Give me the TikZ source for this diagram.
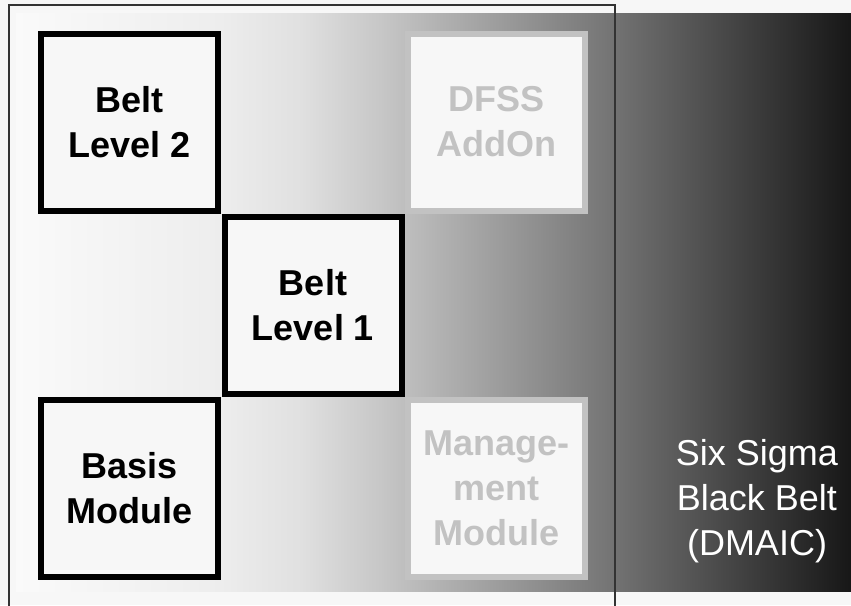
\documentclass[tikz,border=0pt]{standalone}
\usepackage{fontspec}
\setmainfont{Liberation Sans}
\definecolor{paper}{HTML}{F7F7F7}
\definecolor{faded}{HTML}{C2C2C2}
\pgfdeclarehorizontalshading{beltshade}{100bp}{rgb(0bp)=(0.98,0.98,0.98); rgb(25bp)=(0.98,0.98,0.98); rgb(37.2bp)=(0.93,0.93,0.93); rgb(42bp)=(0.88,0.88,0.88); rgb(46.8bp)=(0.78,0.78,0.78); rgb(60bp)=(0.47,0.47,0.47); rgb(75bp)=(0.09,0.09,0.09); rgb(100bp)=(0.09,0.09,0.09)}

\tikzstyle{module}=[shape=rectangle,draw=black,line width=6pt,fill=paper,minimum size=177pt,inner sep=0pt,align=center,font=\fontsize{36}{45}\selectfont\bfseries]
\tikzstyle{addon}=[module,draw=faded,text=faded]
\tikzstyle{caption}=[text=white,align=center,font=\fontsize{36}{45}\selectfont]

\begin{document}
\begin{tikzpicture}[x=1pt,y=-1pt]
        % background
        \fill[paper] (0,0) rectangle (851,605);
        \useasboundingbox (0,0) rectangle (851,605);
        \shade[shading=beltshade] (16,13) rectangle (851,591);
        \draw[color=black!80,line width=1.3pt] (9,5) rectangle (615,612);
        % modules
        \node[module] (lvl2) at (129.5,122) {Belt\\Level 2};
        \node[addon] (dfss) at (496.5,122) {DFSS\\AddOn};
        \node[module] (lvl1) at (313,305) {Belt\\Level 1};
        \node[module] (basis) at (129.5,488) {Basis\\Module};
        \node[addon] (mgmt) at (496.5,488) {Manage-\\ment\\Module};
        % black belt
        \node[caption] (bb) at (757,501) {Six Sigma\\Black Belt\\(DMAIC)};
    \end{tikzpicture}
\end{document}
